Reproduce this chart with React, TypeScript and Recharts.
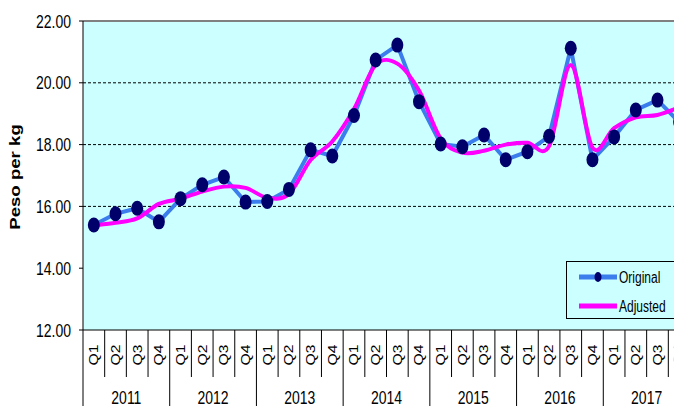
import React from 'react';
import { LineChart, Line, XAxis, YAxis, ReferenceLine, ReferenceArea, Legend } from 'recharts';

const years = ['2011', '2012', '2013', '2014', '2015', '2016', '2017'];
const quarters = ['Q1', 'Q2', 'Q3', 'Q4'];
const original = [
  15.40, 15.76, 15.94, 15.50,
  16.25, 16.70, 16.95, 16.14,
  16.16, 16.55, 17.83, 17.63,
  18.94, 20.74, 21.22, 19.39,
  18.02, 17.93, 18.31, 17.51,
  17.77, 18.27, 21.12, 17.51,
  18.25, 19.12, 19.44, 18.73,
];
const adjusted = [
  15.38, 15.47, 15.61, 16.08,
  16.25, 16.48, 16.64, 16.60,
  16.28, 16.40, 17.50, 18.10,
  19.15, 20.58, 20.62, 19.75,
  18.20, 17.74, 17.80, 18.00,
  18.06, 17.95, 20.58, 17.90,
  18.53, 18.88, 18.96, 19.20,
];
const yTicks = [12, 14, 16, 18, 20, 22];
const gridValues = [16, 18, 20];

const data = years.flatMap((yr, yi) =>
  quarters.map((q, qi) => {
    const i = yi * 4 + qi;
    return { key: `${yr}-${q}`, year: yr, quarter: q, original: original[i], adjusted: adjusted[i] };
  })
);

const W = 700;
const H = 406;
const MARGIN = { top: 21, right: 10, left: 0, bottom: 0 };
const Y_W = 83;
const X_H = 76;
const plotLeft = MARGIN.left + Y_W;
const plotRight = W - MARGIN.right;
const plotBottom = H - X_H;
const band = (plotRight - plotLeft) / data.length;
const FONT = '"Liberation Sans", Arial, sans-serif';
const BLUE = '#3b7ded';
const NAVY = '#00006a';
const MAGENTA = '#ff00ff';
const BG = '#ccffff';

// Excel-like smoothed line (Catmull-Rom style cubic through every point)
const smoothCurve = (context: any) => {
  let pts: number[][] = [];
  return {
    areaStart() {},
    areaEnd() {},
    lineStart() {
      pts = [];
    },
    point(x: number, y: number) {
      pts.push([+x, +y]);
    },
    lineEnd() {
      if (!pts.length) return;
      context.moveTo(pts[0][0], pts[0][1]);
      const t = 1 / 6;
      for (let i = 0; i < pts.length - 1; i++) {
        const p0 = pts[i - 1] || pts[i];
        const p1 = pts[i];
        const p2 = pts[i + 1];
        const p3 = pts[i + 2] || p2;
        context.bezierCurveTo(
          p1[0] + (p2[0] - p0[0]) * t,
          p1[1] + (p2[1] - p0[1]) * t,
          p2[0] - (p3[0] - p1[0]) * t,
          p2[1] - (p3[1] - p1[1]) * t,
          p2[0],
          p2[1]
        );
      }
    },
  };
};

const XTick = (props: any) => {
  const { x, index } = props;
  const d = data[index];
  if (!d) return null;
  const left = x - band / 2;
  const right = x + band / 2;
  return (
    <g>
      <line x1={left} x2={left} y1={plotBottom} y2={d.quarter === 'Q1' ? H : 377} stroke="#000" strokeWidth={1} />
      {index === data.length - 1 && (
        <line x1={right} x2={right} y1={plotBottom} y2={H} stroke="#000" strokeWidth={1} />
      )}
      <text
        transform={`translate(${x},${355}) rotate(-90) scale(1.3,1)`}
        textAnchor="middle"
        dy="0.36em"
        fontSize={12}
        fontFamily={FONT}
        fill="#000"
      >
        {d.quarter}
      </text>
      {d.quarter === 'Q2' && (
        <text
          transform={`translate(${right},${404}) scale(1,1.3)`}
          textAnchor="middle"
          fontSize={14}
          fontFamily={FONT}
          fill="#000"
        >
          {d.year}
        </text>
      )}
    </g>
  );
};

const YTick = (props: any) => {
  const { x, y, payload } = props;
  return (
    <text
      transform={`translate(${x - 6},${y}) scale(1,1.3)`}
      textAnchor="end"
      dy="0.36em"
      fontSize={14}
      fontFamily={FONT}
      fill="#000"
    >
      {Number(payload.value).toFixed(2)}
    </text>
  );
};

const YLabel = () => (
  <text
    transform="translate(20,177) rotate(-90) scale(1.33,1)"
    textAnchor="middle"
    fontSize={14}
    fontWeight="bold"
    fontFamily={FONT}
    fill="#000"
  >
    Peso per kg
  </text>
);

const OrigDot = (p: any) => {
  if (p.cx == null || p.cy == null) return null;
  return <ellipse key={p.key} cx={p.cx} cy={p.cy} rx={6} ry={7.5} fill={NAVY} />;
};

const LegendBox = () => (
  <div style={{ width: 130, height: 58, border: '1px solid #000', boxSizing: 'border-box' }}>
    <svg width={128} height={56} style={{ display: 'block' }}>
      <line x1={12} x2={50} y1={15} y2={15} stroke={BLUE} strokeWidth={5} />
      <ellipse cx={31} cy={15} rx={3.5} ry={5} fill={NAVY} />
      <text transform="translate(52,15) scale(1,1.3)" dy="0.36em" fontSize={12} fontFamily={FONT} fill="#000">
        Original
      </text>
      <line x1={12} x2={50} y1={44} y2={44} stroke={MAGENTA} strokeWidth={5} />
      <text transform="translate(52,44) scale(1,1.3)" dy="0.36em" fontSize={12} fontFamily={FONT} fill="#000">
        Adjusted
      </text>
    </svg>
  </div>
);

export default function App() {
  return (
    <div style={{ position: 'absolute', left: 0, top: 0, width: 674, height: 406, overflow: 'hidden', background: '#fff' }}>
      <LineChart width={W} height={H} data={data} margin={MARGIN}>
        <ReferenceArea y1={12} y2={22} fill={BG} fillOpacity={1} stroke="none" ifOverflow="hidden" />
        {gridValues.map((v) => (
          <ReferenceLine key={v} y={v} stroke="#000" strokeWidth={1} strokeDasharray="3 2" />
        ))}
        <ReferenceLine y={22} stroke="#808080" strokeWidth={2} />
        <XAxis
          dataKey="key"
          scale="band"
          interval={0}
          height={X_H}
          tick={<XTick />}
          tickLine={false}
          axisLine={{ stroke: '#000', strokeWidth: 1 }}
        />
        <YAxis
          width={Y_W}
          domain={[12, 22]}
          ticks={yTicks}
          allowDataOverflow
          tick={<YTick />}
          tickSize={4}
          tickLine={{ stroke: '#000' }}
          axisLine={{ stroke: '#000', strokeWidth: 1 }}
          label={<YLabel />}
        />
        <Legend
          content={<LegendBox />}
          layout="vertical"
          align="center"
          verticalAlign="middle"
          wrapperStyle={{ left: 566, top: 261, width: 130, height: 58 }}
        />
        <Line
          dataKey="original"
          type="linear"
          stroke={BLUE}
          strokeWidth={4}
          dot={<OrigDot />}
          activeDot={false}
          isAnimationActive={false}
        />
        <Line
          dataKey="adjusted"
          type={smoothCurve as any}
          stroke={MAGENTA}
          strokeWidth={4}
          dot={false}
          activeDot={false}
          isAnimationActive={false}
        />
      </LineChart>
    </div>
  );
}
